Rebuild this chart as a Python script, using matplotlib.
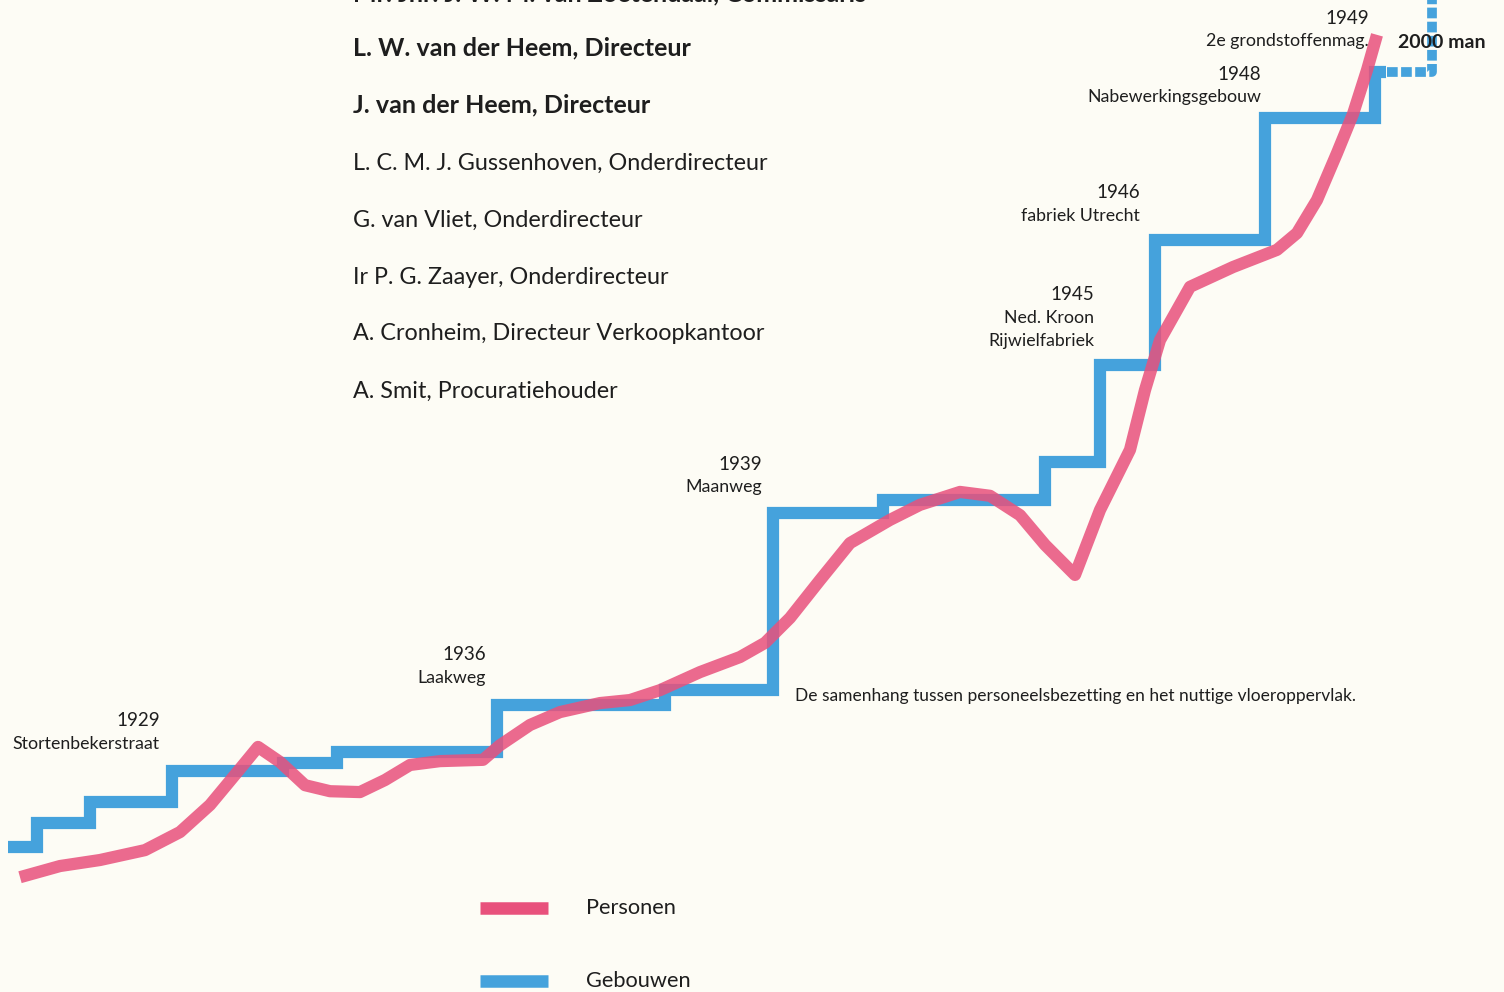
import matplotlib
matplotlib.use("Agg")
import matplotlib.pyplot as plt

# ---------------- data ----------------
# horizontal position (arbitrary time units), vertical in "man"
personen_x = [2.0, 6.0, 10.0, 14.5, 18.0, 21.0, 23.5, 25.8, 28.0, 30.5, 33.0, 36.0,
              38.5, 41.0, 44.0, 48.3, 50.0, 53.0, 56.0, 60.0, 63.0, 66.0, 70.0, 74.0,
              76.5, 79.0, 82.0, 85.0, 89.0, 92.0, 96.0, 99.0, 102.0, 104.5, 107.5,
              110.0, 113.0, 114.5, 116.0, 119.0, 123.3, 127.7, 129.7, 131.7, 133.7,
              135.3, 136.7, 137.7]
personen_y = [53, 79, 93, 116, 158, 221, 291, 356, 321, 267, 253, 251,
              279, 314, 323, 326, 360, 407, 437, 458, 465, 488, 530, 565,
              598, 656, 744, 830, 884, 919, 949, 940, 895, 826, 756,
              907, 1047, 1186, 1302, 1426, 1472, 1512, 1551, 1628, 1737,
              1828, 1930, 2012]

gebouwen_x = [0.8, 3.7, 9.0, 17.2, 28.3, 33.7, 49.7, 66.5, 77.3, 88.3,
              104.5, 110.0, 115.5, 126.5, 137.5, 138.6]
gebouwen_y = [123, 179, 228, 300, 319, 344, 453, 488, 900, 930,
              1019, 1244, 1535, 1819, 1926, 1926]

gepland_x = [138.7, 143.2, 143.2]
gepland_y = [1926, 1926, 2150]

namen = ["Mr. Jhr. J. W. M. van Zoetendaal, Commissaris",
         "L. W. van der Heem, Directeur",
         "J. van der Heem, Directeur",
         "L. C. M. J. Gussenhoven, Onderdirecteur",
         "G. van Vliet, Onderdirecteur",
         "Ir P. G. Zaayer, Onderdirecteur",
         "A. Cronheim, Directeur Verkoopkantoor",
         "A. Smit, Procuratiehouder"]
namen_bold = [True, True, True, False, False, False, False, False]

jaren = ["1929", "1936", "1939", "1945", "1946", "1948", "1949"]
gebouw_namen = [["Stortenbekerstraat"], ["Laakweg"], ["Maanweg"],
                ["Ned. Kroon", "Rijwielfabriek"], ["fabriek Utrecht"],
                ["Nabewerkingsgebouw"], ["2e grondstoffenmag."]]

PINK = "#E8517C"
BLUE = "#45A2DC"
BG = "#FDFCF5"
TXT = "#1E1E1E"

W, H = 1504, 992
fig = plt.figure(figsize=(W / 100, H / 100), dpi=100, facecolor=BG)
ax = fig.add_axes([0, 0, 1, 1])
ax.set_facecolor(BG)
ax.set_xlim(0, 150.4)
# y: 0 man at pixel 900, 0.43 px per man
ax.set_ylim(-(H - 900) / 0.43, 900 / 0.43)
ax.axis("off")

lw = 8.8
ax.step(gebouwen_x, gebouwen_y, where="post", color=BLUE, lw=lw,
        solid_joinstyle="miter", solid_capstyle="butt", zorder=2)
ax.plot(gepland_x, gepland_y, color=BLUE, lw=7.0, linestyle=(0, (1.1, 0.35)),
        dash_capstyle="butt", solid_joinstyle="miter", zorder=2)
ax.plot(personen_x, personen_y, color=PINK, lw=lw, alpha=0.85,
        solid_joinstyle="round", solid_capstyle="butt", zorder=3)


def P(x, y):
    return x / W, 1 - y / H


ff = ["Lato", "DejaVu Sans"]

# name list
name_y = [-6, 48, 105, 163, 220, 277, 334, 391]
for n, b, yy in zip(namen, namen_bold, name_y):
    fig.text(*P(353, yy), n, fontsize=18 if b else 16.8, family=ff, color=TXT,
             fontweight="bold" if b else "normal", va="center", ha="left")

# building annotations (right-aligned)
ann = [(160, 721), (486, 655), (762, 464), (1094, 295), (1140, 193), (1261, 74), (1369, 18)]
for (xr, yy), j, g in zip(ann, jaren, gebouw_namen):
    fig.text(*P(xr, yy), j, fontsize=13.5, family=ff,
             color=TXT, va="center", ha="right")
    for k, line in enumerate(g):
        fig.text(*P(xr, yy + 23 * (k + 1)), line, fontsize=12.8, family=ff, color=TXT,
                 va="center", ha="right")

fig.text(*P(1398, 42), "2000 man", fontsize=14, family=ff, color=TXT,
         fontweight="bold", va="center", ha="left", zorder=1)

fig.text(*P(795, 696), "De samenhang tussen personeelsbezetting en het nuttige vloeroppervlak.",
         fontsize=12.5, family=ff, color=TXT, va="center", ha="left")

# legend
lax = fig.add_axes([0, 0, 1, 1], facecolor="none")
lax.set_xlim(0, W)
lax.set_ylim(H, 0)
lax.axis("off")
for yy, c, lab in [(908, PINK, "Personen"), (981, BLUE, "Gebouwen")]:
    lax.plot([480, 548], [yy, yy], color=c, lw=9, solid_capstyle="butt")
    lax.text(586, yy, lab, fontsize=15.7, family=ff, color=TXT, va="center", ha="left")

fig.savefig("out.png", dpi=100, facecolor=BG)
